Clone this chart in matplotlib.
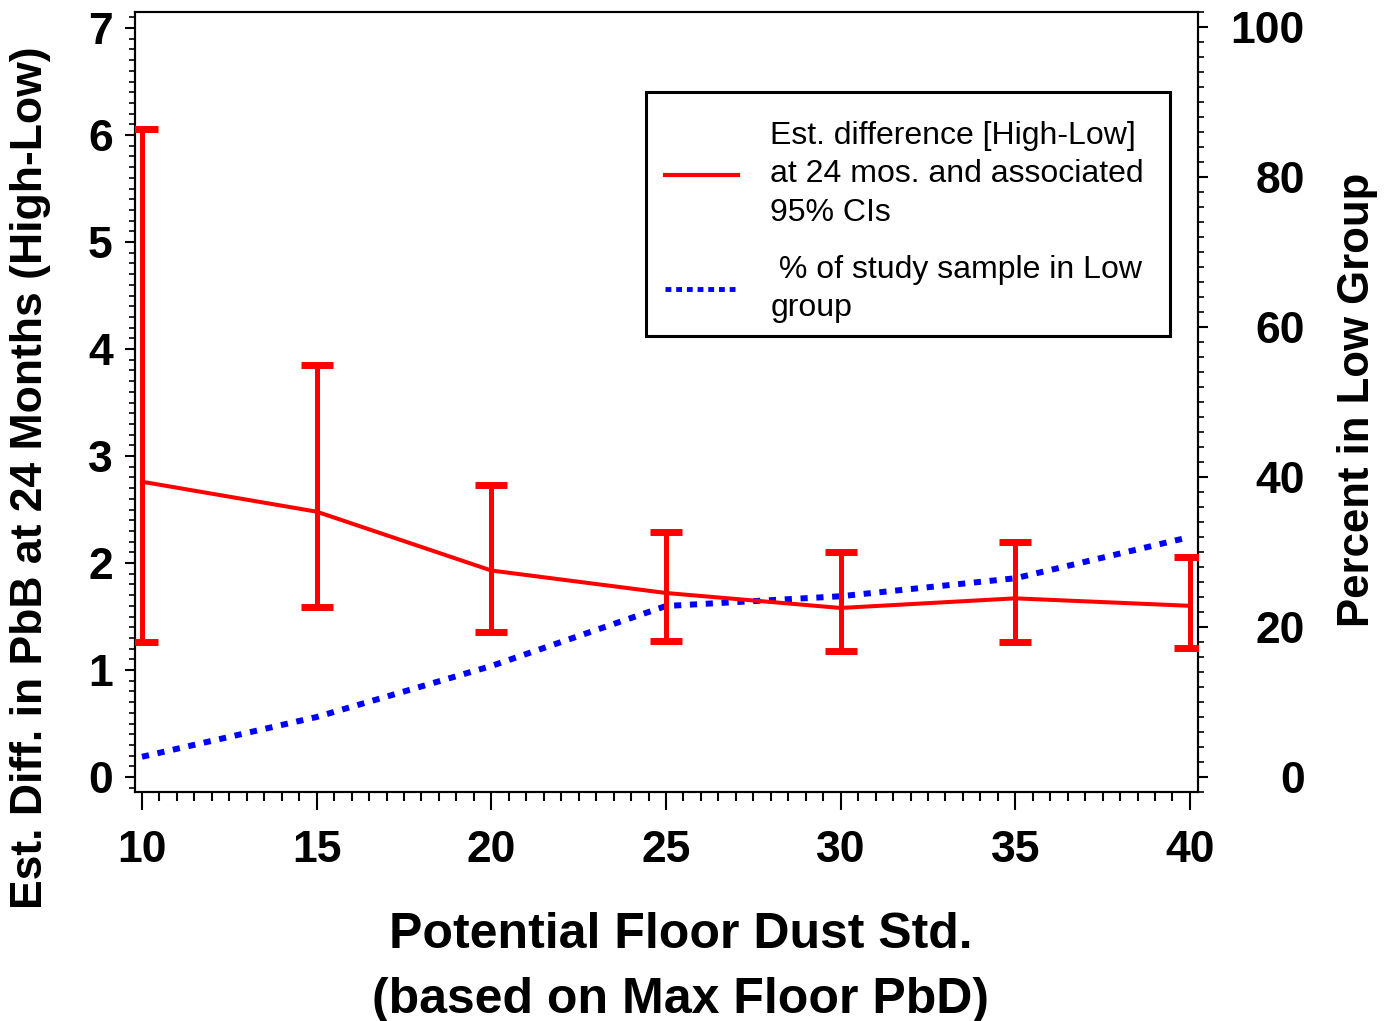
import numpy as np
import matplotlib.pyplot as plt
from matplotlib.ticker import MultipleLocator
from matplotlib.lines import Line2D
from matplotlib.patches import Rectangle

# data
std_levels = [10, 15, 20, 25, 30, 35, 40]
est_diff = [2.76, 2.48, 1.93, 1.72, 1.58, 1.67, 1.60]
ci_low = [1.26, 1.59, 1.36, 1.27, 1.18, 1.26, 1.21]
ci_high = [6.06, 3.85, 2.73, 2.29, 2.10, 2.20, 2.06]
pct_low = [2.7, 8.0, 14.8, 22.8, 24.1, 26.5, 32.0]

plt.rcParams['font.family'] = ['Liberation Sans', 'DejaVu Sans']

W, H = 1385, 1021
fig = plt.figure(figsize=(W / 100, H / 100), dpi=100)
ax = fig.add_axes([135 / W, 1 - 792 / H, (1198 - 135) / W, (792 - 12) / H])
ax2 = ax.twinx()

est = np.array(est_diff)
yerr = np.vstack([est - np.array(ci_low), np.array(ci_high) - est])
ax.errorbar(std_levels, est, yerr=yerr, color='#ff0000', lw=2.9,
            elinewidth=3.6, capsize=11.5, capthick=5, zorder=3)
ax2.plot(std_levels, pct_low, color='#0000ff', lw=4.3,
         linestyle=(0, (1.2, 1.45)), solid_capstyle='butt')

# red on top of blue
ax.set_zorder(ax2.get_zorder() + 1)
ax.patch.set_visible(False)

ax.set_xlim(9.8, 40.23)
ax.set_ylim(-0.14, 7.15)
ax2.set_ylim(-2, 102)

ax.xaxis.set_major_locator(MultipleLocator(5))
ax.xaxis.set_minor_locator(MultipleLocator(0.5))
ax.yaxis.set_major_locator(MultipleLocator(1))
ax.yaxis.set_minor_locator(MultipleLocator(0.1))
ax2.yaxis.set_major_locator(MultipleLocator(20))
ax2.yaxis.set_minor_locator(MultipleLocator(2))

for a in (ax, ax2):
    for s in a.spines.values():
        s.set_linewidth(1.5)

ax.tick_params(axis='x', which='major', length=13, width=1.5, pad=14,
               labelsize=32)
ax.tick_params(axis='x', which='minor', length=6.5, width=1.5)
ax.tick_params(axis='y', which='major', length=7, width=1.5, pad=9,
               labelsize=32)
ax.tick_params(axis='y', which='minor', length=4, width=1.2)
ax2.tick_params(axis='y', which='major', length=7, width=1.5, pad=70,
                labelsize=32)
ax2.tick_params(axis='y', which='minor', length=4, width=1.2)
for lab in ax.get_xticklabels() + ax.get_yticklabels() + ax2.get_yticklabels():
    lab.set_fontweight('bold')
for lab in ax2.get_yticklabels():
    lab.set_horizontalalignment('right')

fig.text(681 / W, 1 - 948 / H, 'Potential Floor Dust Std.',
         ha='center', va='baseline', fontsize=36, fontweight='bold')
fig.text(681 / W, 1 - 1013 / H, '(based on Max Floor PbD)',
         ha='center', va='baseline', fontsize=36, fontweight='bold')
fig.text(31 / W, 1 - 478 / H, 'Est. Diff. in PbB at 24 Months (High-Low)',
         rotation=90, ha='center', va='center', fontsize=32,
         fontweight='bold')
fig.text(1358 / W, 1 - 400 / H, 'Percent in Low Group',
         rotation=90, ha='center', va='center', fontsize=31.5,
         fontweight='bold')

# legend: entries from matplotlib, box drawn separately
handles = [Line2D([], [], color='#ff0000', lw=3),
           Line2D([], [], color='#0000ff', lw=3.5,
                  linestyle=(0, (1.2, 1.0)))]
labels = ['Est. difference [High-Low]\nat 24 mos. and associated\n95% CIs',
          ' % of study sample in Low\ngroup']
leg = ax.legend(handles, labels, loc='upper left',
                bbox_to_anchor=((641 - 135) / 1063, (792 - 97) / 780),
                fontsize=23, frameon=False, handlelength=2.3,
                handletextpad=1.0, borderpad=0.75, labelspacing=0.85,
                borderaxespad=0)
for t in leg.get_texts():
    t.set_linespacing(1.36)
ax.add_patch(Rectangle(((646 - 135) / 1063, (792 - 336) / 780),
                       (1170 - 646) / 1063, (336 - 92) / 780,
                       transform=ax.transAxes, fill=False, ec='black',
                       lw=2.2, zorder=5))

fig.savefig('out.png', dpi=100)
